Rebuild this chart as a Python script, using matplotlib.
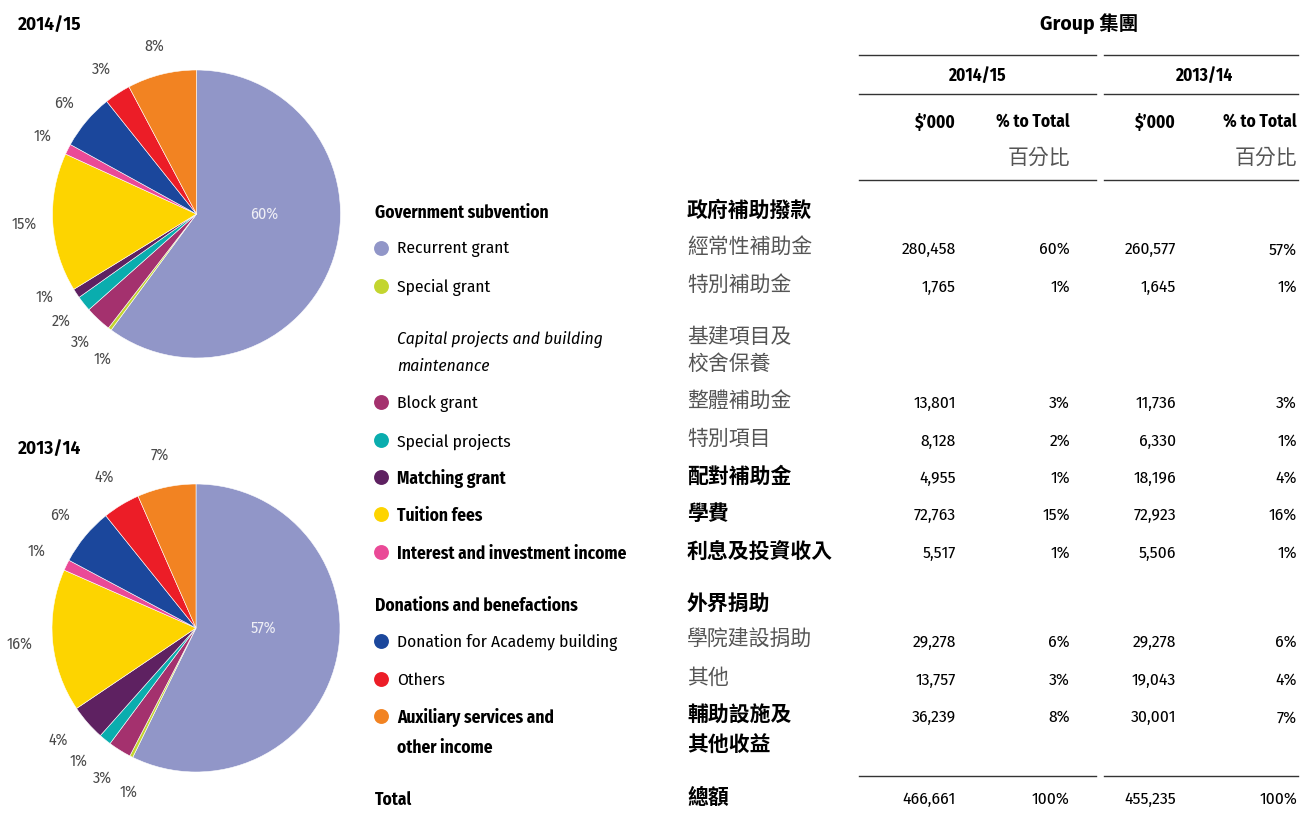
import matplotlib
matplotlib.use("Agg")
import matplotlib.pyplot as plt
from matplotlib import font_manager
import numpy as np

# ---------------- data ----------------
categories_en = ["Recurrent grant", "Special grant", "Block grant", "Special projects",
                 "Matching grant", "Tuition fees", "Interest and investment income",
                 "Donation for Academy building", "Others",
                 "Auxiliary services and\nother income"]
categories_zh = ["經常性補助金", "特別補助金", "整體補助金", "特別項目", "配對補助金",
                 "學費", "利息及投資收入", "學院建設捐助", "其他", "輔助設施及\n其他收益"]
values_1415 = [280458, 1765, 13801, 8128, 4955, 72763, 5517, 29278, 13757, 36239]
values_1314 = [260577, 1645, 11736, 6330, 18196, 72923, 5506, 29278, 19043, 30001]
pct_1415 = [60, 1, 3, 2, 1, 15, 1, 6, 3, 8]
pct_1314 = [57, 1, 3, 1, 4, 16, 1, 6, 4, 7]
total_1415 = 466661
total_1314 = 455235
colors = ["#9196C8", "#C3D52F", "#A4316E", "#0AADAE", "#5E2161",
          "#FDD400", "#EA4A97", "#1B479C", "#EC1D27", "#F28322"]
year_labels = ["2014/15", "2013/14"]

# ---------------- fonts ----------------
names = {f.name for f in font_manager.fontManager.ttflist}
def pick(cands):
    for c in cands:
        if c in names:
            return c
    return "DejaVu Sans"
EN = pick(["Fira Sans Condensed", "Asap Condensed", "IBM Plex Sans Condensed", "Barlow Semi Condensed"])
HEAD = pick(["Fira Sans", "Open Sans", "Noto Sans"])
ZH = "Noto Sans CJK TC"
FONT = [EN, ZH, "DejaVu Sans"]
FONT_ZH = [ZH, "DejaVu Sans"]
BOLDFONT = [HEAD, ZH, "DejaVu Sans"]

W, H = 1300, 814
fig = plt.figure(figsize=(13, 8.14), dpi=100)
fig.patch.set_facecolor("white")


def spread(angles, min_sep, iters=200):
    """push apart label angles (degrees) that are closer than min_sep"""
    a = np.array(angles, dtype=float)
    order = np.argsort(a)
    for _ in range(iters):
        moved = False
        for j in range(len(order) - 1):
            p, q = order[j], order[j + 1]
            gap = a[q] - a[p]
            if gap < min_sep - 1e-6:
                d = (min_sep - gap) / 2
                a[p] -= d
                a[q] += d
                moved = True
        if not moved:
            break
    return a


# ---------------- pies ----------------
R = 144.0
HALF = 185.0
pie_specs = [((196.5, 214.0), values_1415, pct_1415, year_labels[0], 25, 1.2),
             ((196.0, 628.0), values_1314, pct_1314, year_labels[1], 449, 1.23)]
for (cx, cy), vals, pcts, title, ty, ld in pie_specs:
    ax = fig.add_axes([(cx - HALF) / W, (H - cy - HALF) / H, 2 * HALF / W, 2 * HALF / H])
    wedges, _ = ax.pie(vals, colors=colors, startangle=90, counterclock=False, radius=1.0,
                       wedgeprops=dict(linewidth=0.4, edgecolor="white"))
    ax.set_xlim(-HALF / R, HALF / R)
    ax.set_ylim(-HALF / R, HALF / R)
    ax.set_aspect("equal")
    ax.axis("off")
    mids = [((w.theta1 + w.theta2) / 2) % 360 for w in wedges[1:]]
    outs = spread(mids, 9.5)
    # inner label of the dominant slice
    ax.text(0.47, 0.0, f"{pcts[0]}%", ha="center", va="center",
            fontsize=11.5, color="#EEEEF5", family=FONT)
    for p, angd in zip(pcts[1:], outs):
        ang = np.deg2rad(angd)
        ax.text(ld * np.cos(ang), ld * np.sin(ang), f"{p}%", ha="center", va="center",
                fontsize=11.5, color="#4a4a4a", family=FONT)

    fig.text(18 / W, 1 - ty / H, title, ha="left", va="center", fontsize=12.5,
             fontweight="bold", family=BOLDFONT, color="black")

# ---------------- table ----------------
ax = fig.add_axes([0, 0, 1, 1])
ax.set_xlim(0, W)
ax.set_ylim(H, 0)
ax.axis("off")

FS = 12.5
FS_ZH = 15
DY = 1.5  # baseline correction for latin text
x_en_head, x_en, x_bul, x_zh = 375, 397, 381, 687
x_cols = [956, 1070, 1176, 1297]

ax.text(1089, 24, "Group 集團", ha="center", va="center", fontsize=14,
        fontweight="bold", family=BOLDFONT)
for y in (55, 94, 180, 776):
    ax.plot([859, 1096], [y, y], color="#333333", lw=1.0)
    ax.plot([1104, 1298], [y, y], color="#333333", lw=1.0)
ax.text(977, 74 + DY, year_labels[0], ha="center", va="center", fontsize=FS,
        fontweight="bold", family=FONT)
ax.text(1204, 74 + DY, year_labels[1], ha="center", va="center", fontsize=FS,
        fontweight="bold", family=FONT)
for xa, xb in ((x_cols[0], x_cols[1]), (x_cols[2], x_cols[3])):
    ax.text(xa, 121 + DY, "$\u2019000", ha="right", va="center", fontsize=FS,
            fontweight="bold", family=FONT)
    ax.text(xb, 121 + DY, "% to Total", ha="right", va="center", fontsize=FS,
            fontweight="bold", family=FONT)
    ax.text(xb, 158, "百分比", ha="right", va="center", fontsize=FS_ZH,
            color="#555555", fontweight="light", family=FONT_ZH)

# section headers
ax.text(x_en_head, 211 + DY, "Government subvention", ha="left", va="center", fontsize=FS,
        fontweight="bold", family=FONT)
ax.text(x_zh, 210, "政府補助撥款", ha="left", va="center", fontsize=FS_ZH,
        fontweight="bold", family=FONT_ZH)
ax.text(x_en, 338 + DY, "Capital projects and building", ha="left", va="center", fontsize=FS,
        style="italic", family=FONT)
ax.text(x_en, 365 + DY, "maintenance", ha="left", va="center", fontsize=FS,
        style="italic", family=FONT)
ax.text(x_zh, 337, "基建項目及", ha="left", va="center", fontsize=FS_ZH,
        style="italic", color="#555555", fontweight="light", family=FONT_ZH)
ax.text(x_zh, 364, "校舍保養", ha="left", va="center", fontsize=FS_ZH,
        style="italic", color="#555555", fontweight="light", family=FONT_ZH)
ax.text(x_en_head, 604 + DY, "Donations and benefactions", ha="left", va="center", fontsize=FS,
        fontweight="bold", family=FONT)
ax.text(x_zh, 603, "外界捐助", ha="left", va="center", fontsize=FS_ZH,
        fontweight="bold", family=FONT_ZH)

row_y = [248, 286, 402, 440, 477, 514, 552, 641, 679, 716]
row_bold = [False, False, False, False, True, True, True, False, False, True]
for i, (en, zh) in enumerate(zip(categories_en, categories_zh)):
    y = row_y[i]
    wt = "bold" if row_bold[i] else "normal"
    zw = "bold" if row_bold[i] else "light"
    zc = "black" if row_bold[i] else "#555555"
    ax.scatter([x_bul], [y], s=115, color=colors[i], zorder=3, linewidths=0)
    for k, line in enumerate(en.split("\n")):
        ax.text(x_en, y + DY + k * 30, line, ha="left", va="center", fontsize=FS,
                fontweight=wt, family=FONT)
    for k, line in enumerate(zh.split("\n")):
        ax.text(x_zh, y - 1 + k * 30, line, ha="left", va="center", fontsize=FS_ZH,
                fontweight=zw, color=zc, family=FONT_ZH)
    cells = [f"{values_1415[i]:,}", f"{pct_1415[i]}%", f"{values_1314[i]:,}", f"{pct_1314[i]}%"]
    for xc, c in zip(x_cols, cells):
        ax.text(xc, y + DY, c, ha="right", va="center", fontsize=FS, family=FONT)

# total
ax.text(x_en_head, 798 + DY, "Total", ha="left", va="center", fontsize=FS,
        fontweight="bold", family=FONT)
ax.text(x_zh, 797, "總額", ha="left", va="center", fontsize=FS_ZH,
        fontweight="bold", family=FONT_ZH)
cells = [f"{total_1415:,}", "100%", f"{total_1314:,}", "100%"]
for xc, c in zip(x_cols, cells):
    ax.text(xc, 798 + DY, c, ha="right", va="center", fontsize=FS, family=FONT)

fig.savefig("out.png", dpi=100, facecolor="white")
